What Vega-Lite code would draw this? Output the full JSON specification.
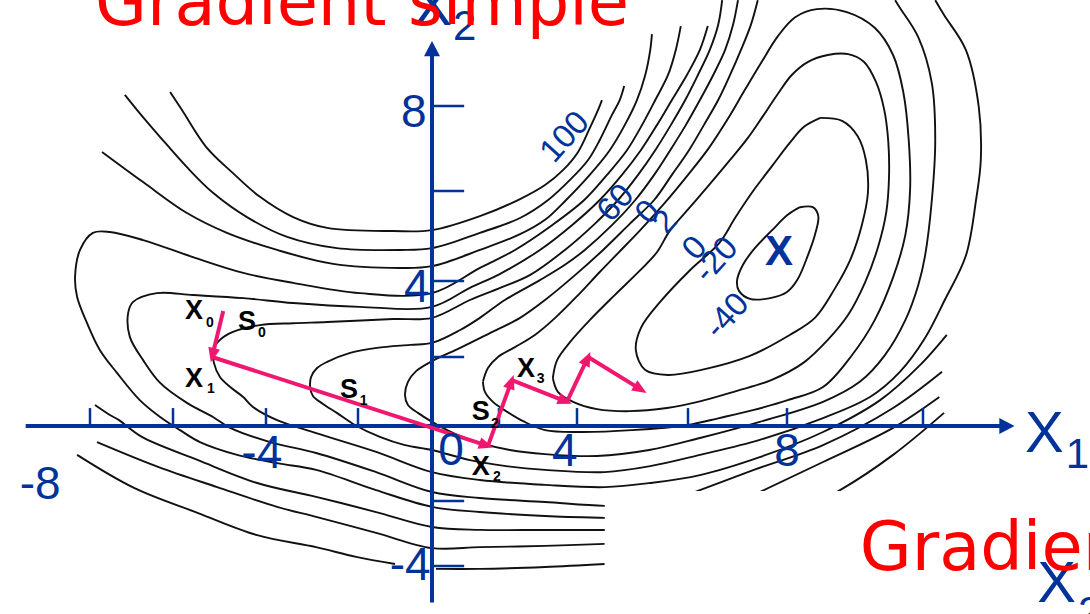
{
  "$schema": "https://vega.github.io/schema/vega-lite/v6.json",
  "width": 1090,
  "height": 614,
  "padding": 0,
  "autosize": {"type": "none"},
  "background": "white",
  "view": {"stroke": null},
  "datasets": {
    "contours": [
      {"c":"C1","x":8.19,"y":5.64},{"c":"C1","x":8.38,"y":5.64},{"c":"C1","x":8.46,"y":5.44},{"c":"C1","x":8.41,"y":5.02},{"c":"C1","x":8.31,"y":4.58},{"c":"C1","x":8.15,"y":4.02},{"c":"C1","x":8.0,"y":3.71},{"c":"C1","x":7.66,"y":3.55},{"c":"C1","x":7.25,"y":3.53},{"c":"C1","x":7.03,"y":3.74},{"c":"C1","x":6.99,"y":4.0},{"c":"C1","x":7.11,"y":4.36},{"c":"C1","x":7.35,"y":4.73},{"c":"C1","x":7.7,"y":5.13},{"c":"C1","x":8.01,"y":5.47},{"c":"C1","x":8.19,"y":5.64},
      {"c":"C2","x":8.49,"y":7.72},{"c":"C2","x":8.81,"y":7.65},{"c":"C2","x":9.04,"y":7.29},{"c":"C2","x":9.16,"y":6.73},{"c":"C2","x":9.19,"y":5.96},{"c":"C2","x":9.1,"y":5.24},{"c":"C2","x":8.93,"y":4.47},{"c":"C2","x":8.69,"y":3.76},{"c":"C2","x":8.41,"y":3.03},{"c":"C2","x":8.04,"y":2.58},{"c":"C2","x":7.25,"y":2.03},{"c":"C2","x":6.34,"y":1.65},{"c":"C2","x":5.64,"y":1.48},{"c":"C2","x":5.23,"y":1.62},{"c":"C2","x":5.06,"y":2.18},{"c":"C2","x":5.15,"y":2.76},{"c":"C2","x":5.51,"y":3.47},{"c":"C2","x":6.04,"y":4.24},{"c":"C2","x":6.63,"y":4.84},{"c":"C2","x":6.95,"y":5.4},{"c":"C2","x":7.29,"y":5.96},{"c":"C2","x":7.7,"y":6.59},{"c":"C2","x":8.04,"y":7.13},{"c":"C2","x":8.25,"y":7.51},{"c":"C2","x":8.49,"y":7.72},
      {"c":"C3","x":3.38,"y":1.39},{"c":"C3","x":3.49,"y":1.91},{"c":"C3","x":3.82,"y":2.39},{"c":"C3","x":4.23,"y":2.97},{"c":"C3","x":4.68,"y":3.63},{"c":"C3","x":5.14,"y":4.24},{"c":"C3","x":5.44,"y":4.64},{"c":"C3","x":5.68,"y":5.13},{"c":"C3","x":6.04,"y":5.64},{"c":"C3","x":6.44,"y":6.16},{"c":"C3","x":6.85,"y":6.73},{"c":"C3","x":7.21,"y":7.25},{"c":"C3","x":7.49,"y":7.72},{"c":"C3","x":7.8,"y":8.26},{"c":"C3","x":8.07,"y":8.73},{"c":"C3","x":8.31,"y":9.04},{"c":"C3","x":8.6,"y":9.2},{"c":"C3","x":8.9,"y":9.22},{"c":"C3","x":9.13,"y":9.04},{"c":"C3","x":9.31,"y":8.56},{"c":"C3","x":9.43,"y":7.91},{"c":"C3","x":9.49,"y":7.15},{"c":"C3","x":9.5,"y":6.31},{"c":"C3","x":9.46,"y":5.53},{"c":"C3","x":9.34,"y":4.76},{"c":"C3","x":9.15,"y":3.97},{"c":"C3","x":8.9,"y":3.11},{"c":"C3","x":8.6,"y":2.45},{"c":"C3","x":8.24,"y":1.83},{"c":"C3","x":7.68,"y":1.33},{"c":"C3","x":6.97,"y":1.01},{"c":"C3","x":6.26,"y":0.72},{"c":"C3","x":5.62,"y":0.52},{"c":"C3","x":4.95,"y":0.43},{"c":"C3","x":4.36,"y":0.49},{"c":"C3","x":3.9,"y":0.7},{"c":"C3","x":3.51,"y":0.99},{"c":"C3","x":3.38,"y":1.39},
      {"c":"T3","x":1.52,"y":1.28},{"c":"T3","x":1.67,"y":1.68},{"c":"T3","x":1.97,"y":2.0},{"c":"T3","x":2.41,"y":2.26},{"c":"T3","x":2.92,"y":2.58},{"c":"T3","x":3.44,"y":3.03},{"c":"T3","x":4.02,"y":3.63},{"c":"T3","x":4.41,"y":4.2},{"c":"T3","x":4.74,"y":4.62},{"c":"T3","x":5.14,"y":5.13},{"c":"T3","x":5.55,"y":5.69},{"c":"T3","x":6.0,"y":6.38},{"c":"T3","x":6.42,"y":7.01},{"c":"T3","x":6.79,"y":7.67},{"c":"T3","x":7.15,"y":8.38},{"c":"T3","x":7.49,"y":9.04},{"c":"T3","x":7.82,"y":9.65},{"c":"T3","x":8.12,"y":10.09},{"c":"T3","x":8.44,"y":10.28},{"c":"T3","x":8.88,"y":10.21},{"c":"T3","x":9.29,"y":9.84},{"c":"T3","x":9.56,"y":9.2},{"c":"T3","x":9.71,"y":8.33},{"c":"T3","x":9.79,"y":7.2},{"c":"T3","x":9.81,"y":6.02},{"c":"T3","x":9.74,"y":5.02},{"c":"T3","x":9.56,"y":4.08},{"c":"T3","x":9.29,"y":2.97},{"c":"T3","x":8.96,"y":2.06},{"c":"T3","x":8.53,"y":1.13},{"c":"T3","x":8.01,"y":0.75},{"c":"T3","x":7.31,"y":0.46},{"c":"T3","x":6.63,"y":0.23},{"c":"T3","x":6.0,"y":0.03},{"c":"T3","x":4.99,"y":-0.11},{"c":"T3","x":4.05,"y":-0.16},{"c":"T3","x":3.18,"y":-0.11},{"c":"T3","x":2.62,"y":0.14},{"c":"T3","x":2.21,"y":0.41},{"c":"T3","x":1.82,"y":0.7},{"c":"T3","x":1.58,"y":0.99},{"c":"T3","x":1.52,"y":1.28},
      {"c":"T4","x":7.41,"y":10.49},{"c":"T4","x":7.27,"y":9.91},{"c":"T4","x":7.07,"y":9.32},{"c":"T4","x":6.85,"y":8.73},{"c":"T4","x":6.61,"y":8.14},{"c":"T4","x":6.32,"y":7.55},{"c":"T4","x":6.02,"y":6.96},{"c":"T4","x":5.71,"y":6.38},{"c":"T4","x":5.39,"y":5.8},{"c":"T4","x":4.95,"y":5.27},{"c":"T4","x":4.47,"y":4.69},{"c":"T4","x":3.95,"y":4.13},{"c":"T4","x":3.18,"y":3.5},{"c":"T4","x":2.54,"y":3.03},{"c":"T4","x":1.73,"y":2.63},{"c":"T4","x":0.84,"y":2.24},{"c":"T4","x":0.0,"y":1.88},{"c":"T4","x":-0.43,"y":1.59},{"c":"T4","x":-0.65,"y":1.28},{"c":"T4","x":-0.73,"y":0.9},{"c":"T4","x":-0.65,"y":0.61},{"c":"T4","x":-0.38,"y":0.38},{"c":"T4","x":0.0,"y":0.12},{"c":"T4","x":0.69,"y":-0.21},{"c":"T4","x":1.43,"y":-0.45},{"c":"T4","x":2.28,"y":-0.64},{"c":"T4","x":3.18,"y":-0.75},{"c":"T4","x":4.36,"y":-0.8},{"c":"T4","x":5.3,"y":-0.64},{"c":"T4","x":6.24,"y":-0.32},{"c":"T4","x":7.45,"y":0.12},{"c":"T4","x":8.53,"y":0.7},{"c":"T4","x":9.07,"y":1.28},{"c":"T4","x":9.44,"y":2.05},{"c":"T4","x":9.74,"y":2.97},{"c":"T4","x":9.93,"y":3.89},{"c":"T4","x":10.03,"y":4.56},{"c":"T4","x":10.13,"y":5.8},{"c":"T4","x":10.18,"y":7.2},{"c":"T4","x":10.13,"y":8.54},{"c":"T4","x":9.93,"y":9.62},{"c":"T4","x":9.66,"y":10.31},{"c":"T4","x":9.59,"y":10.49},
      {"c":"T5","x":7.01,"y":10.49},{"c":"T5","x":6.91,"y":9.91},{"c":"T5","x":6.75,"y":9.32},{"c":"T5","x":6.51,"y":8.73},{"c":"T5","x":6.24,"y":8.14},{"c":"T5","x":5.96,"y":7.55},{"c":"T5","x":5.68,"y":6.96},{"c":"T5","x":5.39,"y":6.38},{"c":"T5","x":5.05,"y":5.8},{"c":"T5","x":4.63,"y":5.24},{"c":"T5","x":4.14,"y":4.69},{"c":"T5","x":3.69,"y":4.36},{"c":"T5","x":3.05,"y":4.02},{"c":"T5","x":2.15,"y":3.5},{"c":"T5","x":1.43,"y":3.03},{"c":"T5","x":0.84,"y":2.71},{"c":"T5","x":0.0,"y":2.37},{"c":"T5","x":-0.59,"y":2.32},{"c":"T5","x":-1.49,"y":2.24},{"c":"T5","x":-2.17,"y":2.11},{"c":"T5","x":-2.67,"y":1.86},{"c":"T5","x":-2.89,"y":1.68},{"c":"T5","x":-3.02,"y":1.42},{"c":"T5","x":-3.04,"y":1.13},{"c":"T5","x":-2.98,"y":0.87},{"c":"T5","x":-2.76,"y":0.64},{"c":"T5","x":-2.46,"y":0.38},{"c":"T5","x":-2.07,"y":0.03},{"c":"T5","x":-1.41,"y":-0.29},{"c":"T5","x":-0.73,"y":-0.51},{"c":"T5","x":0.0,"y":-0.64},{"c":"T5","x":1.13,"y":-0.91},{"c":"T5","x":2.18,"y":-1.07},{"c":"T5","x":3.18,"y":-1.17},{"c":"T5","x":4.5,"y":-1.23},{"c":"T5","x":5.32,"y":-1.07},{"c":"T5","x":6.24,"y":-0.77},{"c":"T5","x":7.45,"y":-0.37},{"c":"T5","x":8.53,"y":0.23},{"c":"T5","x":9.22,"y":0.84},{"c":"T5","x":9.66,"y":1.57},{"c":"T5","x":10.03,"y":2.5},{"c":"T5","x":10.32,"y":3.5},{"c":"T5","x":10.63,"y":4.56},{"c":"T5","x":10.78,"y":5.8},{"c":"T5","x":10.85,"y":6.73},{"c":"T5","x":10.82,"y":7.98},{"c":"T5","x":10.63,"y":9.32},{"c":"T5","x":10.31,"y":10.14},{"c":"T5","x":10.18,"y":10.49},
      {"c":"T6","x":6.69,"y":10.49},{"c":"T6","x":6.61,"y":9.91},{"c":"T6","x":6.44,"y":9.32},{"c":"T6","x":6.2,"y":8.73},{"c":"T6","x":5.95,"y":8.14},{"c":"T6","x":5.69,"y":7.55},{"c":"T6","x":5.41,"y":6.96},{"c":"T6","x":5.1,"y":6.38},{"c":"T6","x":4.74,"y":5.8},{"c":"T6","x":4.32,"y":5.27},{"c":"T6","x":3.69,"y":4.69},{"c":"T6","x":2.79,"y":4.13},{"c":"T6","x":2.03,"y":3.82},{"c":"T6","x":1.13,"y":3.5},{"c":"T6","x":0.0,"y":3.03},{"c":"T6","x":-1.05,"y":3.0},{"c":"T6","x":-2.67,"y":2.92},{"c":"T6","x":-3.41,"y":2.89},{"c":"T6","x":-4.13,"y":2.84},{"c":"T6","x":-4.71,"y":2.66},{"c":"T6","x":-4.99,"y":2.45},{"c":"T6","x":-5.14,"y":2.18},{"c":"T6","x":-5.12,"y":1.83},{"c":"T6","x":-4.99,"y":1.42},{"c":"T6","x":-4.77,"y":1.13},{"c":"T6","x":-4.49,"y":0.84},{"c":"T6","x":-4.28,"y":0.55},{"c":"T6","x":-3.76,"y":0.17},{"c":"T6","x":-2.91,"y":-0.19},{"c":"T6","x":-1.51,"y":-0.69},{"c":"T6","x":0.0,"y":-1.23},{"c":"T6","x":1.43,"y":-1.44},{"c":"T6","x":3.18,"y":-1.57},{"c":"T6","x":4.5,"y":-1.63},{"c":"T6","x":5.32,"y":-1.52},{"c":"T6","x":6.24,"y":-1.31},{"c":"T6","x":7.45,"y":-0.83},{"c":"T6","x":8.53,"y":-0.16},{"c":"T6","x":9.37,"y":0.75},{"c":"T6","x":9.96,"y":1.77},{"c":"T6","x":10.35,"y":2.58},
      {"c":"T7","x":6.4,"y":9.88},{"c":"T7","x":6.24,"y":9.32},{"c":"T7","x":5.98,"y":8.73},{"c":"T7","x":5.71,"y":8.14},{"c":"T7","x":5.44,"y":7.55},{"c":"T7","x":5.15,"y":6.96},{"c":"T7","x":4.81,"y":6.38},{"c":"T7","x":4.41,"y":5.8},{"c":"T7","x":3.87,"y":5.24},{"c":"T7","x":3.05,"y":4.69},{"c":"T7","x":2.03,"y":4.16},{"c":"T7","x":1.13,"y":3.82},{"c":"T7","x":0.0,"y":3.32},{"c":"T7","x":-1.95,"y":3.32},{"c":"T7","x":-3.41,"y":3.42},{"c":"T7","x":-4.49,"y":3.55},{"c":"T7","x":-5.57,"y":3.63},{"c":"T7","x":-6.39,"y":3.68},{"c":"T7","x":-6.96,"y":3.45},{"c":"T7","x":-7.08,"y":3.16},{"c":"T7","x":-7.04,"y":2.53},{"c":"T7","x":-6.72,"y":1.91},{"c":"T7","x":-6.31,"y":1.25},{"c":"T7","x":-5.7,"y":0.67},{"c":"T7","x":-5.14,"y":0.26},{"c":"T7","x":-4.77,"y":-0.05},{"c":"T7","x":-3.91,"y":-0.43},{"c":"T7","x":-2.91,"y":-0.72},{"c":"T7","x":-1.51,"y":-1.23},{"c":"T7","x":0.0,"y":-1.76},{"c":"T7","x":1.43,"y":-1.92},{"c":"T7","x":3.18,"y":-2.03},{"c":"T7","x":4.5,"y":-2.15},{"c":"T7","x":5.5,"y":-2.12},{"c":"T7","x":6.24,"y":-1.71},{"c":"T7","x":7.33,"y":-1.17},{"c":"T7","x":8.53,"y":-0.51},{"c":"T7","x":9.56,"y":0.52},{"c":"T7","x":10.28,"y":1.57},
      {"c":"T8","x":5.87,"y":9.88},{"c":"T8","x":5.78,"y":9.32},{"c":"T8","x":5.64,"y":8.73},{"c":"T8","x":5.41,"y":8.14},{"c":"T8","x":5.17,"y":7.55},{"c":"T8","x":4.9,"y":6.96},{"c":"T8","x":4.54,"y":6.38},{"c":"T8","x":4.13,"y":5.8},{"c":"T8","x":3.36,"y":5.24},{"c":"T8","x":2.41,"y":4.69},{"c":"T8","x":1.43,"y":4.29},{"c":"T8","x":0.0,"y":3.68},{"c":"T8","x":-1.95,"y":3.68},{"c":"T8","x":-3.41,"y":3.95},{"c":"T8","x":-4.49,"y":4.18},{"c":"T8","x":-5.57,"y":4.53},{"c":"T8","x":-6.72,"y":4.91},{"c":"T8","x":-7.52,"y":5.09},{"c":"T8","x":-7.93,"y":5.07},{"c":"T8","x":-8.24,"y":4.69},{"c":"T8","x":-8.36,"y":4.09},{"c":"T8","x":-8.31,"y":3.58},{"c":"T8","x":-8.07,"y":2.89},{"c":"T8","x":-7.76,"y":2.18},{"c":"T8","x":-7.35,"y":1.54},{"c":"T8","x":-6.8,"y":0.75},{"c":"T8","x":-6.31,"y":0.26},{"c":"T8","x":-5.85,"y":-0.11},{"c":"T8","x":-5.42,"y":-0.43},{"c":"T8","x":-4.62,"y":-0.77},{"c":"T8","x":-3.76,"y":-0.99},{"c":"T8","x":-2.91,"y":-1.17},{"c":"T8","x":-1.51,"y":-1.71},{"c":"T8","x":0.0,"y":-2.18},{"c":"T8","x":1.43,"y":-2.34},{"c":"T8","x":3.18,"y":-2.46},{"c":"T8","x":4.5,"y":-2.52},{"c":"T8","x":6.24,"y":-2.58},{"c":"T8","x":7.45,"y":-1.76},{"c":"T8","x":8.53,"y":-0.96},{"c":"T8","x":9.56,"y":-0.05},{"c":"T8","x":10.24,"y":0.84},
      {"c":"Cu","x":-7.71,"y":6.92},{"c":"Cu","x":-6.72,"y":6.21},{"c":"Cu","x":-5.7,"y":5.51},{"c":"Cu","x":-4.84,"y":5.07},{"c":"Cu","x":-3.76,"y":4.69},{"c":"Cu","x":-2.54,"y":4.38},{"c":"Cu","x":-0.86,"y":4.29},{"c":"Cu","x":0.0,"y":4.33},{"c":"Cu","x":1.43,"y":4.69},{"c":"Cu","x":2.54,"y":5.04},{"c":"Cu","x":3.18,"y":5.36},{"c":"Cu","x":3.72,"y":5.8},{"c":"Cu","x":4.23,"y":6.38},{"c":"Cu","x":4.59,"y":6.96},{"c":"Cu","x":4.86,"y":7.55},{"c":"Cu","x":5.08,"y":8.14},{"c":"Cu","x":5.23,"y":8.73},{"c":"Cu","x":5.32,"y":9.32},{"c":"Cu","x":5.35,"y":9.69},
      {"c":"Cl","x":-7.88,"y":0.61},{"c":"Cl","x":-7.52,"y":0.32},{"c":"Cl","x":-7.3,"y":0.17},{"c":"Cl","x":-6.75,"y":-0.29},{"c":"Cl","x":-5.46,"y":-0.91},{"c":"Cl","x":-4.19,"y":-1.52},{"c":"Cl","x":-2.91,"y":-1.89},{"c":"Cl","x":-1.51,"y":-2.34},{"c":"Cl","x":0.0,"y":-2.8},{"c":"Cl","x":1.43,"y":-2.89},{"c":"Cl","x":3.18,"y":-2.89},{"c":"Cl","x":4.5,"y":-2.89},{"c":"Cl","x":7.45,"y":-2.89},{"c":"Cl","x":8.78,"y":-1.71},{"c":"Cl","x":9.56,"y":-0.77},{"c":"Cl","x":10.31,"y":0.38},
      {"c":"Bu","x":-7.16,"y":8.26},{"c":"Bu","x":-6.87,"y":7.91},{"c":"Bu","x":-6.31,"y":7.27},{"c":"Bu","x":-5.7,"y":6.56},{"c":"Bu","x":-5.14,"y":5.96},{"c":"Bu","x":-4.41,"y":5.42},{"c":"Bu","x":-3.54,"y":4.98},{"c":"Bu","x":-2.46,"y":4.73},{"c":"Bu","x":-0.86,"y":4.69},{"c":"Bu","x":0.0,"y":4.73},{"c":"Bu","x":1.43,"y":5.07},{"c":"Bu","x":2.54,"y":5.4},{"c":"Bu","x":3.26,"y":5.8},{"c":"Bu","x":3.82,"y":6.26},{"c":"Bu","x":4.2,"y":6.73},{"c":"Bu","x":4.41,"y":7.2},{"c":"Bu","x":4.63,"y":7.79},{"c":"Bu","x":4.77,"y":8.14},{"c":"Bu","x":4.85,"y":8.47},
      {"c":"Bl","x":-7.83,"y":-0.43},{"c":"Bl","x":-6.36,"y":-1.09},{"c":"Bl","x":-5.05,"y":-1.63},{"c":"Bl","x":-3.76,"y":-2.18},{"c":"Bl","x":-2.91,"y":-2.49},{"c":"Bl","x":-1.51,"y":-2.98},{"c":"Bl","x":0.0,"y":-3.45},{"c":"Bl","x":1.43,"y":-3.42},{"c":"Bl","x":3.18,"y":-3.38},{"c":"Bl","x":4.5,"y":-3.32},
      {"c":"Au","x":-6.07,"y":8.33},{"c":"Au","x":-5.81,"y":7.91},{"c":"Au","x":-5.29,"y":7.04},{"c":"Au","x":-4.71,"y":6.42},{"c":"Au","x":-4.13,"y":5.87},{"c":"Au","x":-3.41,"y":5.42},{"c":"Au","x":-2.67,"y":5.18},{"c":"Au","x":-1.05,"y":5.11},{"c":"Au","x":0.0,"y":5.13},{"c":"Au","x":1.43,"y":5.44},{"c":"Au","x":2.54,"y":5.82},{"c":"Au","x":3.18,"y":6.14},{"c":"Au","x":3.64,"y":6.49},{"c":"Au","x":4.02,"y":6.92},{"c":"Au","x":4.23,"y":7.48},{"c":"Au","x":4.38,"y":7.91},{"c":"Au","x":4.45,"y":8.14},
      {"c":"Al1","x":-8.31,"y":-0.77},{"c":"Al1","x":-6.94,"y":-1.65},{"c":"Al1","x":-5.46,"y":-2.37},{"c":"Al1","x":-4.19,"y":-3.05},{"c":"Al1","x":-2.91,"y":-3.42},{"c":"Al1","x":-2.04,"y":-3.72},{"c":"Al1","x":-1.0,"y":-3.94},
      {"c":"Al2","x":0.12,"y":-4.09},{"c":"Al2","x":1.43,"y":-4.09},{"c":"Al2","x":3.18,"y":-4.03},{"c":"Al2","x":4.5,"y":-3.94}
    ],
    "mask": [{"x": 4.5, "y": -1.73, "x2": 20, "y2": -12}],
    "ticks": [
      {"x":-8,"y":0,"x2":-8,"y2":0.52},{"x":-6,"y":0,"x2":-6,"y2":0.52},{"x":-4,"y":0,"x2":-4,"y2":0.52},{"x":-2,"y":0,"x2":-2,"y2":0.52},
      {"x":2,"y":0,"x2":2,"y2":0.52},{"x":4,"y":0,"x2":4,"y2":0.52},{"x":6,"y":0,"x2":6,"y2":0.52},{"x":8,"y":0,"x2":8,"y2":0.52},{"x":10,"y":0,"x2":10,"y2":0.52},
      {"x":0,"y":-4,"x2":0.96,"y2":-4},{"x":0,"y":-2,"x2":0.96,"y2":-2},{"x":0,"y":2,"x2":0.96,"y2":2},{"x":0,"y":4,"x2":0.96,"y2":4},{"x":0,"y":6,"x2":0.96,"y2":6},{"x":0,"y":8,"x2":0.96,"y2":8}
    ],
    "axes": [
      {"x": -9.55, "y": 0, "x2": 11.24, "y2": 0},
      {"x": 0, "y": -5.12, "x2": 0, "y2": 9.36}
    ],
    "steps": [
      {"x": -4.92, "y": 3.21, "x2": -5.16, "y2": 2.0},
      {"x": -5.16, "y": 2.0, "x2": 1.67, "y2": -0.53},
      {"x": 1.67, "y": -0.53, "x2": 2.33, "y2": 1.33},
      {"x": 2.33, "y": 1.33, "x2": 3.74, "y2": 0.7},
      {"x": 3.74, "y": 0.7, "x2": 4.2, "y2": 2.0},
      {"x": 4.2, "y": 2.0, "x2": 5.17, "y2": 1.04}
    ],
    "labels": [
      {"k":"tick","t":"8","x":-0.49,"y":7.84},
      {"k":"tick","t":"4","x":-0.41,"y":3.82},
      {"k":"tick","t":"-4","x":-0.59,"y":-4.0},
      {"k":"tick","t":"-8","x":-9.2,"y":-1.57},
      {"k":"tick","t":"-4","x":-4.09,"y":-0.75},
      {"k":"tick","t":"0","x":0.57,"y":-0.67},
      {"k":"tick","t":"4","x":3.69,"y":-0.69},
      {"k":"tick","t":"8","x":8.0,"y":-0.69},
      {"k":"name","t":"X","x":-0.51,"y":9.91},
      {"k":"name","t":"X","x":11.5,"y":-0.69},
      {"k":"name","t":"X","x":11.68,"y":-5.11},
      {"k":"sub","t":"2","x":0.63,"y":9.55},
      {"k":"sub","t":"1","x":12.1,"y":-1.12},
      {"k":"sub","t":"2","x":12.28,"y":-5.85},
      {"k":"title","t":"Gradient simple","x":-7.88,"y":9.91},
      {"k":"title","t":"Gradient simple","x":9.07,"y":-4.12},
      {"k":"step","t":"X","x":-5.74,"y":3.0},
      {"k":"step","t":"S","x":-4.6,"y":2.71},
      {"k":"step","t":"X","x":-5.74,"y":1.13},
      {"k":"step","t":"S","x":-2.39,"y":0.81},
      {"k":"step","t":"S","x":1.19,"y":0.17},
      {"k":"step","t":"X","x":1.19,"y":-1.31},
      {"k":"step","t":"X","x":2.46,"y":1.42},
      {"k":"stepsub","t":"0","x":-5.29,"y":2.79},
      {"k":"stepsub","t":"0","x":-4.17,"y":2.53},
      {"k":"stepsub","t":"1","x":-5.27,"y":0.96},
      {"k":"stepsub","t":"1","x":-1.95,"y":0.61},
      {"k":"stepsub","t":"2","x":1.76,"y":-0.05},
      {"k":"stepsub","t":"2","x":1.82,"y":-1.47},
      {"k":"stepsub","t":"3","x":2.97,"y":1.25},
      {"k":"level","t":"100","x":3.69,"y":7.27},
      {"k":"level","t":"60","x":4.7,"y":5.73},
      {"k":"level","t":"0","x":5.28,"y":5.53},
      {"k":"level","t":"2","x":5.59,"y":5.31},
      {"k":"level","t":"0","x":6.14,"y":4.73},
      {"k":"level","t":"-20","x":6.57,"y":4.47},
      {"k":"level","t":"-40","x":6.79,"y":3.08},
      {"k":"min","t":"X","x":7.84,"y":4.64}
    ]
  },
  "encoding": {
    "x": {"field": "x", "type": "quantitative", "axis": null,
          "scale": {"domain": [-8, -6, -4, -2, 0, 2, 4, 6, 8, 10], "range": [90, 173, 266, 358, 432, 499, 577, 688, 787, 923], "zero": false, "nice": false}},
    "y": {"field": "y", "type": "quantitative", "axis": null,
          "scale": {"domain": [-4, -2, 0, 2, 4, 6, 8], "range": [566, 501, 426, 357, 281, 191, 106], "zero": false, "nice": false}}
  },
  "layer": [
    {
      "data": {"name": "contours"},
      "transform": [{"window": [{"op": "row_number", "as": "i"}], "groupby": ["c"]}],
      "mark": {"type": "line", "color": "#111111", "strokeWidth": 1.9, "interpolate": "catmull-rom"},
      "encoding": {
        "detail": {"field": "c"},
        "order": {"field": "i", "type": "quantitative"}
      }
    },
    {
      "data": {"name": "mask"},
      "mark": {"type": "rect", "color": "white"},
      "encoding": {"x2": {"field": "x2"}, "y2": {"field": "y2"}}
    },
    {
      "data": {"name": "ticks"},
      "mark": {"type": "rule", "color": "#003399", "strokeWidth": 2.5},
      "encoding": {"x2": {"field": "x2"}, "y2": {"field": "y2"}}
    },
    {
      "data": {"name": "axes"},
      "mark": {"type": "rule", "color": "#003399", "strokeWidth": 4},
      "encoding": {"x2": {"field": "x2"}, "y2": {"field": "y2"}}
    },
    {
      "data": {"name": "axes"},
      "transform": [{"calculate": "atan2(scale('x', datum.x2) - scale('x', datum.x), scale('y', datum.y) - scale('y', datum.y2)) * 180 / PI", "as": "ang"}],
      "mark": {"type": "point", "shape": "M0,-0.45L0.5,0.5L-0.5,0.5Z", "filled": true, "size": 1024, "color": "#003399", "opacity": 1, "strokeWidth": 0},
      "encoding": {
        "x": {"field": "x2", "type": "quantitative"},
        "y": {"field": "y2", "type": "quantitative"},
        "angle": {"field": "ang", "type": "quantitative", "scale": null}
      }
    },
    {
      "data": {"name": "steps"},
      "mark": {"type": "rule", "color": "#F0186E", "strokeWidth": 4},
      "encoding": {"x2": {"field": "x2"}, "y2": {"field": "y2"}}
    },
    {
      "data": {"name": "steps"},
      "transform": [{"calculate": "atan2(scale('x', datum.x2) - scale('x', datum.x), scale('y', datum.y) - scale('y', datum.y2)) * 180 / PI", "as": "ang"}],
      "mark": {"type": "point", "shape": "M0,-0.45L0.5,0.75L-0.5,0.75Z", "filled": true, "size": 576, "color": "#F0186E", "opacity": 1, "strokeWidth": 0},
      "encoding": {
        "x": {"field": "x2", "type": "quantitative"},
        "y": {"field": "y2", "type": "quantitative"},
        "angle": {"field": "ang", "type": "quantitative", "scale": null}
      }
    },
    {
      "data": {"name": "labels"},
      "transform": [{"filter": "datum.k == 'tick'"}],
      "mark": {"type": "text", "font": "Liberation Sans", "fontSize": 46, "color": "#003399", "align": "center", "baseline": "middle"},
      "encoding": {"text": {"field": "t"}}
    },
    {
      "data": {"name": "labels"},
      "transform": [{"filter": "datum.k == 'name'"}],
      "mark": {"type": "text", "font": "Liberation Sans", "fontSize": 58, "color": "#003399", "align": "left", "baseline": "alphabetic"},
      "encoding": {"text": {"field": "t"}}
    },
    {
      "data": {"name": "labels"},
      "transform": [{"filter": "datum.k == 'sub'"}],
      "mark": {"type": "text", "font": "Liberation Sans", "fontSize": 42, "color": "#003399", "align": "left", "baseline": "alphabetic"},
      "encoding": {"text": {"field": "t"}}
    },
    {
      "data": {"name": "labels"},
      "transform": [{"filter": "datum.k == 'title'"}],
      "mark": {"type": "text", "font": "DejaVu Sans", "fontSize": 67, "color": "#FF0000", "align": "left", "baseline": "alphabetic"},
      "encoding": {"text": {"field": "t"}}
    },
    {
      "data": {"name": "labels"},
      "transform": [{"filter": "datum.k == 'step'"}],
      "mark": {"type": "text", "font": "Liberation Sans", "fontWeight": "bold", "fontSize": 27, "color": "#000000", "align": "left", "baseline": "alphabetic"},
      "encoding": {"text": {"field": "t"}}
    },
    {
      "data": {"name": "labels"},
      "transform": [{"filter": "datum.k == 'stepsub'"}],
      "mark": {"type": "text", "font": "Liberation Sans", "fontWeight": "bold", "fontSize": 14, "color": "#000000", "align": "left", "baseline": "alphabetic"},
      "encoding": {"text": {"field": "t"}}
    },
    {
      "data": {"name": "labels"},
      "transform": [{"filter": "datum.k == 'level'"}],
      "mark": {"type": "text", "font": "Liberation Sans", "fontSize": 33, "color": "#003399", "align": "center", "baseline": "middle", "angle": -48},
      "encoding": {"text": {"field": "t"}}
    },
    {
      "data": {"name": "labels"},
      "transform": [{"filter": "datum.k == 'min'"}],
      "mark": {"type": "text", "font": "Liberation Sans", "fontWeight": "bold", "fontSize": 42, "color": "#003399", "align": "center", "baseline": "middle"},
      "encoding": {"text": {"field": "t"}}
    }
  ]
}
